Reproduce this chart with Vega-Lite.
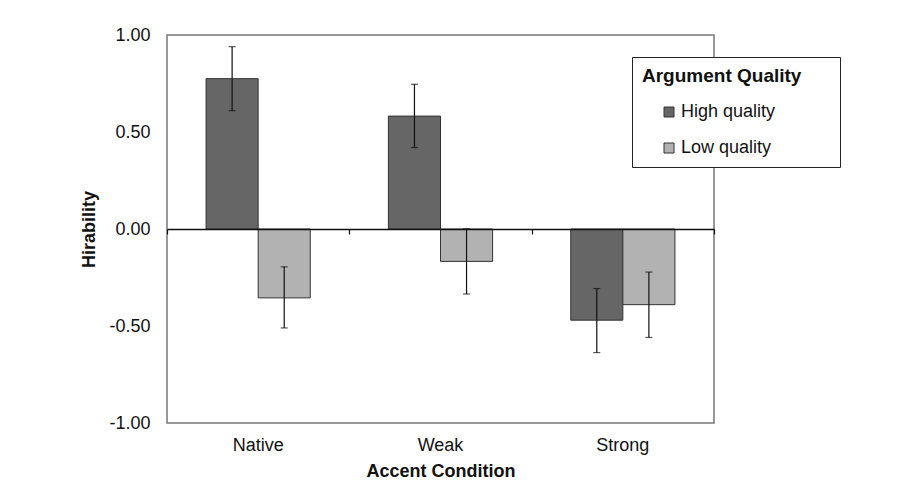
{
  "$schema": "https://vega.github.io/schema/vega-lite/v6.json",
  "width": 547,
  "height": 388,
  "autosize": {"type": "none"},
  "padding": {"left": 167, "top": 35, "right": 200, "bottom": 75},
  "background": "white",
  "config": {
    "font": "Liberation Sans",
    "view": {"stroke": "#777777", "strokeWidth": 1.5},
    "axis": {"labelFont": "Liberation Sans", "titleFont": "Liberation Sans", "labelColor": "#111", "titleColor": "#111"}
  },
  "data": {
    "values": [
      {"accent": "Native", "quality": "High quality", "value": 0.775, "lo": 0.61, "hi": 0.94},
      {"accent": "Native", "quality": "Low quality", "value": -0.355, "lo": -0.51, "hi": -0.195},
      {"accent": "Weak", "quality": "High quality", "value": 0.582, "lo": 0.42, "hi": 0.746},
      {"accent": "Weak", "quality": "Low quality", "value": -0.167, "lo": -0.335, "hi": 0.001},
      {"accent": "Strong", "quality": "High quality", "value": -0.47, "lo": -0.637, "hi": -0.307},
      {"accent": "Strong", "quality": "Low quality", "value": -0.39, "lo": -0.559, "hi": -0.222}
    ]
  },
  "layer": [
    {
      "mark": {"type": "bar", "stroke": "#333333", "strokeWidth": 1},
      "encoding": {
        "x": {
          "field": "accent", "type": "nominal", "sort": ["Native", "Weak", "Strong"],
          "scale": {"paddingInner": 0, "paddingOuter": 0},
          "axis": {"orient": "bottom", "title": "Accent Condition", "labelAngle": 0, "labelFontSize": 18, "titleFontSize": 18, "titleFontWeight": "bold", "ticks": false, "domain": false, "labelPadding": 13, "titlePadding": 8}
        },
        "xOffset": {"field": "quality", "type": "nominal", "scale": {"paddingInner": 0, "paddingOuter": 0.75}},
        "y": {
          "field": "value", "type": "quantitative",
          "scale": {"domain": [-1, 1], "nice": false},
          "axis": {"title": "Hirability", "values": [-1, -0.5, 0, 0.5, 1], "labelExpr": "replace(format(datum.value, '.2f'), '\u2212', '-')", "grid": false, "ticks": false, "domain": false, "labelFontSize": 18, "titleFontSize": 18, "titleFontWeight": "bold", "labelPadding": 17, "titlePadding": 10}
        },
        "color": {
          "field": "quality", "type": "nominal",
          "scale": {"domain": ["High quality", "Low quality"], "range": ["#666666", "#b2b2b2"]},
          "legend": {
            "title": "Argument Quality\u2800\u2800",
            "orient": "none", "legendX": 465, "legendY": 22,
            "strokeColor": "#222222", "fillColor": "white", "padding": 10,
            "titleFontSize": 19, "titleFontWeight": "bold", "titleColor": "#111", "titlePadding": 17, "titleLimit": 400,
            "labelFontSize": 18, "labelColor": "#111", "labelOffset": 3,
            "symbolType": "square", "symbolSize": 100, "symbolStrokeColor": "#333333", "symbolStrokeWidth": 1, "symbolOpacity": 1, "symbolOffset": 18,
            "rowPadding": 18
          }
        }
      }
    },
    {
      "mark": {"type": "rule", "color": "#111111", "strokeWidth": 1.2},
      "encoding": {
        "x": {
          "field": "accent", "type": "nominal", "sort": ["Native", "Weak", "Strong"],
          "axis": {"orient": "bottom", "offset": -194, "title": null, "labels": false, "domainColor": "#111111", "domainWidth": 1.5, "tickColor": "#111111", "tickSize": 5, "tickWidth": 1.2, "tickBand": "extent", "zindex": 1}
        },
        "xOffset": {"field": "quality", "type": "nominal"},
        "y": {"field": "lo", "type": "quantitative"},
        "y2": {"field": "hi"}
      }
    },
    {
      "mark": {"type": "tick", "color": "#111111", "thickness": 1.2, "size": 7},
      "encoding": {
        "x": {"field": "accent", "type": "nominal", "sort": ["Native", "Weak", "Strong"], "axis": null},
        "xOffset": {"field": "quality", "type": "nominal"},
        "y": {"field": "lo", "type": "quantitative"}
      }
    },
    {
      "mark": {"type": "tick", "color": "#111111", "thickness": 1.2, "size": 7},
      "encoding": {
        "x": {"field": "accent", "type": "nominal", "sort": ["Native", "Weak", "Strong"], "axis": null},
        "xOffset": {"field": "quality", "type": "nominal"},
        "y": {"field": "hi", "type": "quantitative"}
      }
    }
  ],
  "resolve": {"axis": {"x": "independent"}}
}
